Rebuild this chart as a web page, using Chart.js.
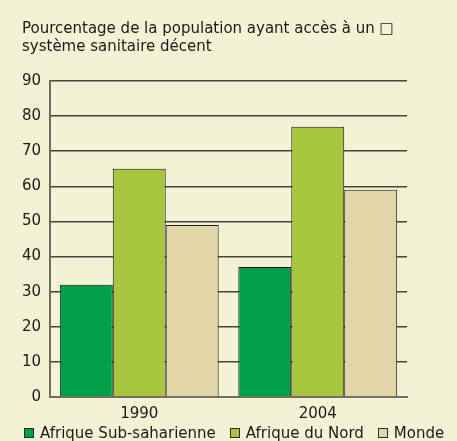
<!DOCTYPE html>
<html>
<head>
<meta charset="utf-8">
<script src="https://cdn.jsdelivr.net/npm/chart.js@4/dist/chart.umd.min.js"></script>
<style>
  html, body { margin: 0; padding: 0; background: #f3f2d4; }
  #wrap { position: relative; width: 457px; height: 441px; }
  #title {
    position: absolute; left: 22px; top: 19px;
    font: 15px 'DejaVu Sans', sans-serif; line-height: 18px; color: #1a1a1a;
  }
  #legend {
    position: absolute; left: 24px; top: 424px; height: 18px;
    display: flex; align-items: center;
    font: 15px 'DejaVu Sans', sans-serif; line-height: 18px; color: #1a1a1a;
    white-space: nowrap;
  }
  #legend .item { display: flex; align-items: center; margin-right: 14px; }
  #legend .box { width: 8px; height: 8px; border: 1px solid #2a2a2a; margin-right: 6px; }
</style>
</head>
<body>
<div id="wrap">
  <canvas id="myChart" width="457" height="441"></canvas>
  <div id="title">Pourcentage de la population ayant accès à un &#x25A1;<br>système sanitaire décent</div>
  <div id="legend"></div>
</div>
<script>
// data
var years = ["1990", "2004"];
var subSaharan = [32, 37];
var northAfrica = [65, 77];
var world = [49, 59];
var seriesNames = ["Afrique Sub-saharienne", "Afrique du Nord", "Monde"];
var yTicks = [0, 10, 20, 30, 40, 50, 60, 70, 80, 90];

Chart.defaults.font.family = "'DejaVu Sans', sans-serif";
Chart.defaults.font.size = 15;
Chart.defaults.color = "#1a1a1a";

var ctx = document.getElementById("myChart").getContext("2d");
var myChart = new Chart(ctx, {
    type: "bar",
    data: {
        labels: years,
        datasets: [{
            label: seriesNames[0],
            data: subSaharan,
            backgroundColor: "#00a04b",
            borderColor: "#1a1a1a",
            borderWidth: 1
        }, {
            label: seriesNames[1],
            data: northAfrica,
            backgroundColor: "#a8c540",
            borderColor: "#1a1a1a",
            borderWidth: 1
        }, {
            label: seriesNames[2],
            data: world,
            backgroundColor: "#e2d5a7",
            borderColor: "#1a1a1a",
            borderWidth: 1
        }]
    },
    options: {
        responsive: false,
        animation: false,
        layout: { padding: { left: 12, right: 50, top: 81, bottom: 20 } },
        datasets: {
            bar: { categoryPercentage: 0.89, barPercentage: 1 }
        },
        plugins: {
            legend: { display: false },
            tooltip: { enabled: false }
        },
        scales: {
            x: {
                grid: { display: false, drawTicks: false },
                border: { color: "#6e6e64", width: 2 },
                ticks: { padding: 8, font: { size: 15 } },
                afterFit: function (s) { s.height = 24; }
            },
            y: {
                min: 0,
                max: 90,
                afterBuildTicks: function (axis) {
                    axis.ticks = yTicks.map(function (v) { return { value: v }; });
                },
                grid: { color: "#45453e", lineWidth: 1.6, drawTicks: false },
                border: { color: "#6e6e64", width: 2 },
                ticks: { padding: 9, font: { size: 15 } },
                afterFit: function (s) { s.width = 38; }
            }
        }
    }
});

// html legend from the chart's datasets
var legendDiv = document.getElementById("legend");
myChart.data.datasets.forEach(function (ds) {
    var item = document.createElement("span");
    item.className = "item";
    var box = document.createElement("span");
    box.className = "box";
    box.style.background = ds.backgroundColor;
    item.appendChild(box);
    item.appendChild(document.createTextNode(ds.label));
    legendDiv.appendChild(item);
});
</script>
</body>
</html>
